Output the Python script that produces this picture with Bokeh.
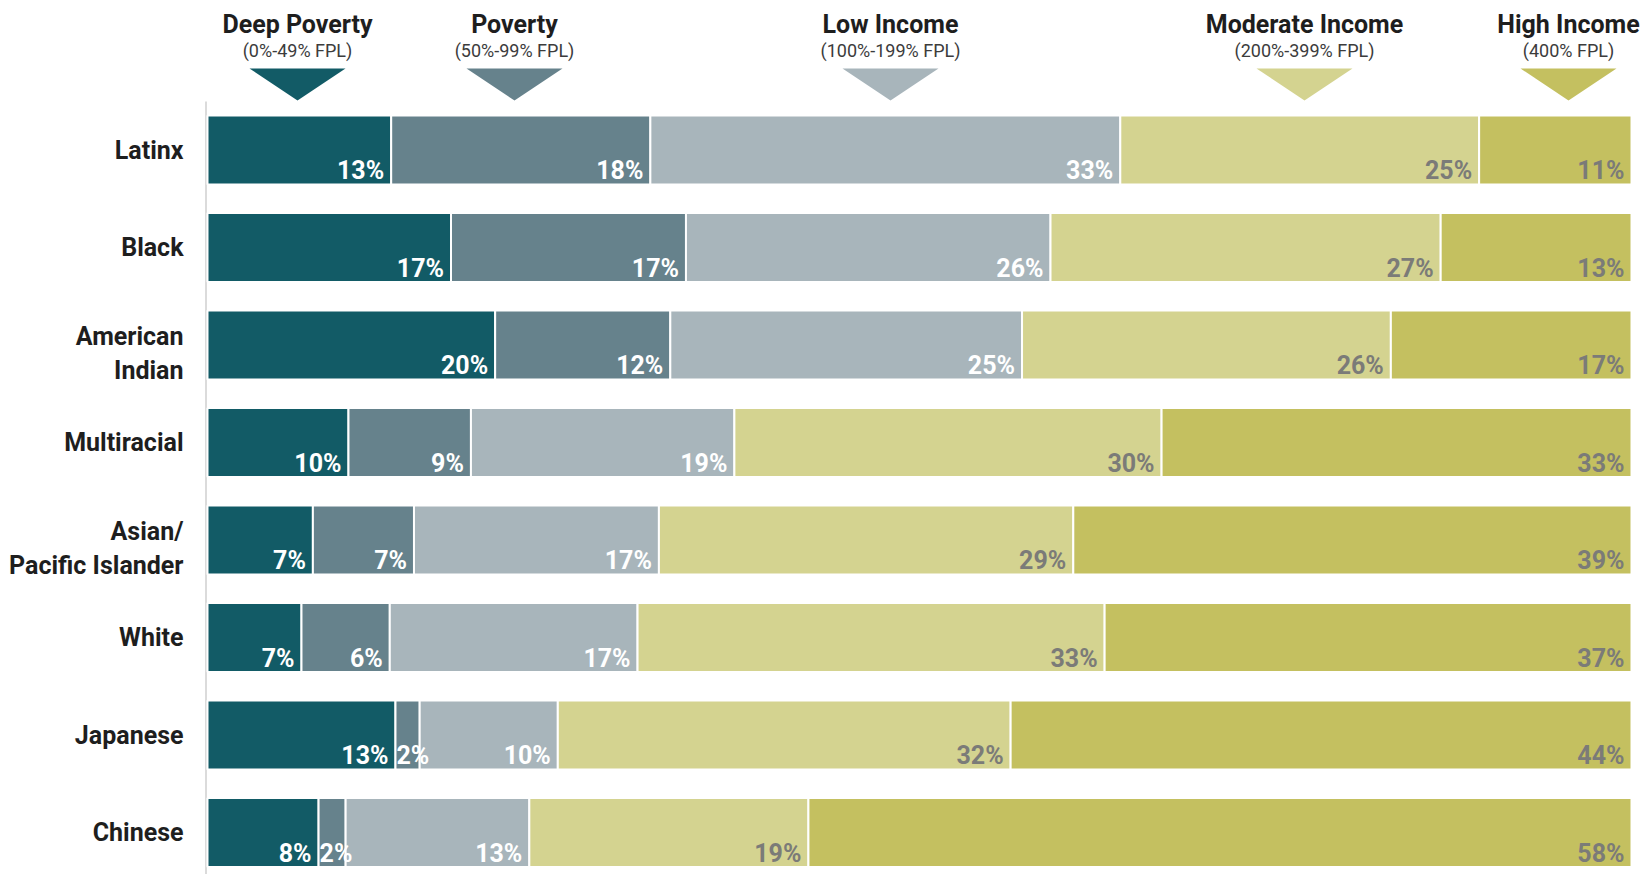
from bokeh.plotting import figure
from bokeh.models import Range1d, ColumnDataSource
from bokeh.core.properties import value
from bokeh.embed import file_html
from bokeh.resources import INLINE

# ---------------- data ----------------
categories = ["Latinx", "Black", "American\nIndian", "Multiracial",
              "Asian/\nPacific Islander", "White", "Japanese", "Chinese"]
bands = ["Deep Poverty", "Poverty", "Low Income", "Moderate Income", "High Income"]
band_ranges = ["(0%-49% FPL)", "(50%-99% FPL)", "(100%-199% FPL)",
               "(200%-399% FPL)", "(400% FPL)"]

deep_poverty = [12.9, 17.1, 20.2, 9.9, 7.4, 6.6, 13.2, 7.8]
poverty = [18.2, 16.5, 12.3, 8.6, 7.1, 6.2, 1.7, 1.9]
low_income = [33.0, 25.6, 24.7, 18.5, 17.2, 17.4, 9.7, 12.9]
moderate_income = [25.2, 27.4, 25.9, 30.0, 29.1, 32.8, 31.8, 19.6]
high_income = [10.7, 13.4, 16.9, 33.0, 39.2, 37.0, 43.6, 57.8]

labels_deep = ["13%", "17%", "20%", "10%", "7%", "7%", "13%", "8%"]
labels_poverty = ["18%", "17%", "12%", "9%", "7%", "6%", "2%", "2%"]
labels_low = ["33%", "26%", "25%", "19%", "17%", "17%", "10%", "13%"]
labels_moderate = ["25%", "27%", "26%", "30%", "29%", "33%", "32%", "19%"]
labels_high = ["11%", "13%", "17%", "33%", "39%", "37%", "44%", "58%"]

series = [deep_poverty, poverty, low_income, moderate_income, high_income]
series_labels = [labels_deep, labels_poverty, labels_low, labels_moderate, labels_high]

# ---------------- style / layout ----------------
colors = ["#125b66", "#66828c", "#a8b5bb", "#d4d390", "#c4c060"]
text_colors = ["#ffffff", "#ffffff", "#ffffff", "#7b7b78", "#7b7b78"]
FONT = value("Roboto")

W, H = 1648, 874
PX_X = 14.24            # px per percentage point
BAR_LEFT_PX = 207       # px of 0%
ROW_PX = 97.5           # px per row
ROW0_PX = 149.5         # px of first row centre
BAR_H = 0.71

x_start = -BAR_LEFT_PX / PX_X
x_end = x_start + W / PX_X
y_end = -ROW0_PX / ROW_PX
y_start = y_end + H / ROW_PX

def ux(px):  # px -> data x
    return x_start + px / PX_X

def uy(px):  # px -> data y
    return y_end + px / ROW_PX

p = figure(width=W, height=H, output_backend="svg", toolbar_location=None,
           x_range=Range1d(x_start, x_end), y_range=Range1d(y_start, y_end),
           min_border=0, min_border_left=0, min_border_right=0,
           min_border_top=0, min_border_bottom=0)
p.axis.visible = False
p.grid.visible = False
p.outline_line_color = None
p.background_fill_color = "white"

# vertical baseline
p.segment(x0=[ux(205.5)], y0=[uy(101)], x1=[ux(205.5)], y1=[uy(H)],
          line_color="#cfcfcf", line_width=1.5)

rows = list(range(len(categories)))
left = [0.0] * len(categories)
for k, vals in enumerate(series):
    right = [l + v for l, v in zip(left, vals)]
    src = ColumnDataSource(dict(y=rows, left=left, right=right))
    p.hbar(y="y", left="left", right="right", height=BAR_H, source=src,
           fill_color=colors[k], line_color="white", line_width=2)
    left = right

dx = 7 / PX_X
dy = 14 / ROW_PX
left = [0.0] * len(categories)
for k, vals in enumerate(series):
    right = [l + v for l, v in zip(left, vals)]
    big = [i for i in rows if vals[i] >= 4]
    small = [i for i in rows if vals[i] < 4]
    if big:
        p.text(x=[right[i] - dx for i in big], y=[i + BAR_H / 2 - dy for i in big],
               text=[series_labels[k][i] for i in big],
               text_align="right", text_baseline="middle",
               text_font=FONT, text_font_style="bold", text_font_size="25px",
               text_color=text_colors[k])
    if small:
        p.text(x=[left[i] + 1 / PX_X for i in small],
               y=[i + BAR_H / 2 - dy for i in small],
               text=[series_labels[k][i] for i in small],
               text_align="left", text_baseline="middle",
               text_font=FONT, text_font_style="bold", text_font_size="25px",
               text_color=text_colors[k])
    left = right

# row labels
lx, ly, lt = [], [], []
for i, c in enumerate(categories):
    lines = c.split("\n")
    n = len(lines)
    shift = 8 / ROW_PX if n > 1 else 0
    for j, line in enumerate(lines):
        lx.append(ux(183))
        ly.append(i + shift + (j - (n - 1) / 2) * 34 / ROW_PX)
        lt.append(line)
p.text(x=lx, y=ly, text=lt, text_align="right", text_baseline="middle",
       text_font=FONT, text_font_style="bold", text_font_size="25px",
       text_color="#1e1e1e")

# header
header_px = [297, 514, 890, 1304, 1568]
hx = [ux(h) for h in header_px]
p.text(x=hx, y=[uy(24)] * 5, text=bands, text_align="center",
       text_baseline="middle", text_font=FONT, text_font_style="bold",
       text_font_size="25px", text_color="#1e1e1e")
p.text(x=hx, y=[uy(50)] * 5, text=band_ranges, text_align="center",
       text_baseline="middle", text_font=FONT, text_font_size="18px",
       text_color="#3c3c3c")
half_w = 48 / PX_X
xs = [[x - half_w, x + half_w, x] for x in hx]
ys = [[uy(68), uy(68), uy(100)] for _ in hx]
p.patches(xs=xs, ys=ys, fill_color=colors, line_color=None)

open("out.html", "w").write(file_html(p, INLINE))
